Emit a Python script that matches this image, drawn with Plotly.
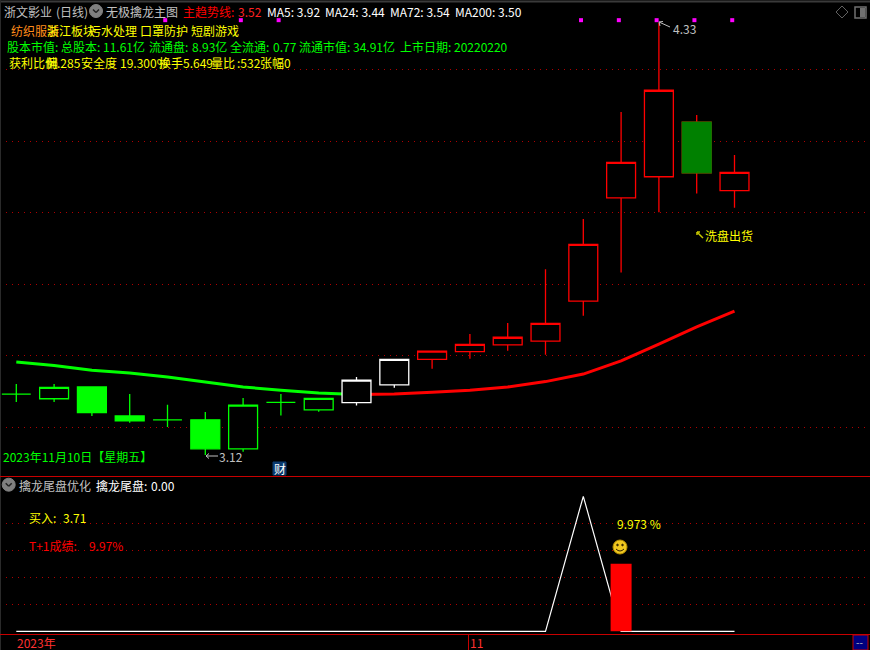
import plotly.graph_objects as go

# ---------- data ----------
candle_index = list(range(20))
body_low  = [3.292,3.279,3.240,3.217,3.220,3.139,3.139,3.269,3.248,3.268,3.318,3.389,3.411,3.430,3.440,3.552,3.841,3.900,3.911,3.861]
body_high = [3.292,3.311,3.312,3.231,3.220,3.220,3.261,3.269,3.280,3.331,3.389,3.412,3.431,3.451,3.490,3.711,3.940,4.142,4.053,3.912]
wick_high = [3.320,3.320,3.312,3.292,3.262,3.242,3.281,3.292,3.281,3.340,3.389,3.412,3.460,3.491,3.641,3.782,4.081,4.330,4.073,3.961]
wick_low  = [3.270,3.270,3.231,3.212,3.200,3.122,3.131,3.232,3.243,3.260,3.310,3.363,3.391,3.413,3.402,3.511,3.632,3.801,3.853,3.813]
candle_kind = ["green_hollow","green_hollow","green_solid","green_solid","green_hollow","green_solid","green_hollow",
               "green_hollow","green_hollow","white_hollow","white_hollow","red_hollow","red_hollow","red_hollow",
               "red_hollow","red_hollow","red_hollow","red_hollow","dark_solid","red_hollow"]
trend_line = [3.382,3.372,3.359,3.351,3.340,3.327,3.312,3.303,3.295,3.291,3.292,3.297,3.303,3.312,3.327,3.348,3.385,3.432,3.480,3.524]
trend_green_upto = 9
signal_index = [4,6,7,15,16,17,18,19]
signal_level = [4.338]*8
price_grid = [3.2,3.4,3.6,3.8,4.0,4.2]
osc_line = [0,0,0,0,0,0,0,0,0,0,0,0,0,0,0,100,0,0,0,0]
osc_bar_index = [16]
osc_bar_value = [50]
osc_grid = [20,40,60,80]

# ---------- canvas helpers (pixels -> paper) ----------
W, H = 870, 650
PX = lambda x: x / W
PY = lambda y: 1 - y / H
XRANGE = [(0 - 16.3) / 37.8, (870 - 16.3) / 37.8]
GRIDCOL = "#b00000"
FRAME = "#c80000"
FONT = "Noto Sans CJK SC"
GREY = "#c0c0c0"
YEL = "#ffff00"
GRN = "#00ff00"

fig = go.Figure()

# main trend line, below candles
fig.add_trace(go.Scatter(x=candle_index[:trend_green_upto+1], y=trend_line[:trend_green_upto+1], mode="lines",
                         line=dict(color=GRN, width=3), xaxis="x", yaxis="y", hoverinfo="skip"))
fig.add_trace(go.Scatter(x=candle_index[trend_green_upto:], y=trend_line[trend_green_upto:], mode="lines",
                         line=dict(color="#ff0000", width=3), xaxis="x", yaxis="y", hoverinfo="skip"))

def candle(idx, lo, hi, wh, wl, line, fill):
    style = dict(line=dict(color=line, width=1.3), fillcolor=fill)
    fig.add_trace(go.Candlestick(x=idx, open=lo, close=hi, high=wh, low=wl, increasing=style, decreasing=style,
                                 whiskerwidth=0, xaxis="x4", yaxis="y4", hoverinfo="skip"))

styles = {"green_hollow": (GRN, "#000000"), "green_solid": (GRN, GRN),
          "white_hollow": ("#ffffff", "#000000"), "red_hollow": ("#ff0000", "#000000"),
          "dark_solid": ("#ff0000", "#000000")}
for kind, (lc, fc) in styles.items():
    ids = [i for i in candle_index if candle_kind[i] == kind]
    candle(ids, [body_low[i] for i in ids], [body_high[i] for i in ids],
           [wick_high[i] for i in ids], [wick_low[i] for i in ids], lc, fc)
# solid dark-green body with red wicks
ids = [i for i in candle_index if candle_kind[i] == "dark_solid"]
candle(ids, [body_low[i] for i in ids], [body_high[i] for i in ids],
       [body_high[i] for i in ids], [body_low[i] for i in ids], "#008000", "#008000")

fig.add_trace(go.Scatter(x=[i - 0.06 for i in signal_index], y=signal_level, mode="markers",
                         marker=dict(symbol="square", size=4, color="#ff00ff", line=dict(width=0)),
                         xaxis="x4", yaxis="y4", hoverinfo="skip"))

# oscillator panel
fig.add_trace(go.Scatter(x=candle_index, y=osc_line, mode="lines", line=dict(color="#ffffff", width=1.2),
                         xaxis="x2", yaxis="y2", hoverinfo="skip"))
fig.add_trace(go.Bar(x=osc_bar_index, y=osc_bar_value, width=0.555, marker=dict(color="#ff0000", line=dict(width=0)),
                     xaxis="x3", yaxis="y3", hoverinfo="skip"))

# ---------- text ----------
ann = []
def note(x, y, text, color=GREY, size=12):
    ann.append(dict(xref="paper", yref="paper", x=PX(x), y=PY(y), text=text, showarrow=False, xanchor="left",
                    yanchor="middle", font=dict(family=FONT, size=size, color=color), borderpad=0, borderwidth=0))

note(4, 11, "浙文影业", GREY)
note(56, 11, "(日线)", GREY)
note(106, 11, "无极擒龙主图")
note(183, 11, "主趋势线:", "#ff0000")
note(238, 11, "3.52", "#ff2020")
note(267, 11, "MA5: 3.92", "#ffffff", 12)
note(325, 11, "MA24: 3.44", "#ffffff", 12)
note(390, 11, "MA72: 3.54", "#ffffff", 12)
note(455, 11, "MA200: 3.50", "#ffffff", 12)

note(11, 30, "纺织服装", "#ff8c1a")
note(47, 30, "浙江板块", YEL)
note(89, 30, "污水处理", YEL)
note(140, 30, "口罩防护", YEL)
note(191, 30, "短剧游戏", YEL)

for x, t in [(7, "股本市值:"), (61, "总股本:"), (103, "11.61亿"), (149, "流通盘:"), (192, "8.93亿"),
             (230, "全流通:"), (273, "0.77"), (299, "流通市值:"), (353, "34.91亿"), (400, "上市日期:"), (454, "20220220")]:
    note(x, 47, t, GRN)

for x, t in [(9, "获利比例"), (46, "偏"), (57, ".285"), (81, "安全度"), (120, "19.300%"), (159, "换手"),
             (183, "5.649"), (211, "量比"), (237, ":532"), (260, "张幅"), (284, "0")]:
    note(x, 63, t, YEL)

note(3, 456, "2023年11月10日【星期五】", GRN)
note(219, 456, "3.12", GREY)
note(673, 28, "4.33", GREY)
note(705, 235, "洗盘出货", YEL)

note(19, 485, "擒龙尾盘优化", GREY)
note(96, 485, "擒龙尾盘:", "#ffffff")
note(151, 485, "0.00", "#ffffff", 12)
note(29, 517, "买入:", YEL, 12)
note(63, 517, "3.71", YEL, 12)
note(29, 545, "T+1成绩:", "#ff0000", 12)
note(89, 545, "9.97%", "#ff0000", 12)
note(617, 523, "9.973 %", YEL, 12)
note(17, 642, "2023年", "#ff3030")
note(470, 642, "11", "#ff3030")
note(856, 641, "--", GREY, 10)
note(274, 468, "财", "#ffffff", 12)

# ---------- furniture shapes ----------
shp = []
def line(x0, y0, x1, y1, color, w=1):
    shp.append(dict(type="line", xref="paper", yref="paper", x0=PX(x0), y0=PY(y0), x1=PX(x1), y1=PY(y1),
                    line=dict(color=color, width=w)))
def rect(x0, y0, x1, y1, fill, lc=None):
    shp.append(dict(type="rect", xref="paper", yref="paper", x0=PX(x0), y0=PY(y0), x1=PX(x1), y1=PY(y1),
                    fillcolor=fill, line=dict(color=lc or fill, width=1), layer="below"))
def circ(cx, cy, r, fill, lc=None):
    shp.append(dict(type="circle", xref="paper", yref="paper", x0=PX(cx - r), y0=PY(cy + r), x1=PX(cx + r), y1=PY(cy - r),
                    fillcolor=fill, line=dict(color=lc or fill, width=1)))

line(0, 1.5, 870, 1.5, "#3a3a3a", 2)
line(0.5, 0, 0.5, 650, "#2a2a2a", 1)
line(0, 476.5, 870, 476.5, FRAME)
line(0, 634.5, 870, 634.5, FRAME)
line(468.5, 634, 468.5, 650, FRAME)
rect(853, 635, 868, 650, "#000080", FRAME)
rect(273, 462, 286, 475, "#0a3a6e")
# chevron icons
for cx, cy in [(96, 11), (8.7, 484.7)]:
    circ(cx, cy, 6.5, "#808080")
    line(cx - 3, cy - 1.5, cx, cy + 1.5, "#222222", 1.5)
    line(cx, cy + 1.5, cx + 3, cy - 1.5, "#222222", 1.5)
# top-right controls
for a, b in [((842, 6), (848, 12)), ((848, 12), (842, 18)), ((842, 18), (836, 12)), ((836, 12), (842, 6))]:
    line(a[0], a[1], b[0], b[1], "#606060")
shp.append(dict(type="rect", xref="paper", yref="paper", x0=PX(855), y0=PY(18), x1=PX(866), y1=PY(7),
                line=dict(color="#707070", width=1.5), fillcolor="#000000"))
shp.append(dict(type="rect", xref="paper", yref="paper", x0=PX(860), y0=PY(17), x1=PX(865), y1=PY(8),
                line=dict(width=0), fillcolor="#707070"))
# arrows
line(206, 456, 218, 456, GREY)
line(206, 456, 209, 453.5, GREY)
line(206, 456, 209, 458.5, GREY)
line(659, 22, 670, 27, GREY)
line(659, 22, 663, 21.5, GREY)
line(659, 22, 660, 26, GREY)
line(697, 232, 703, 238, "#c8c800", 1.5)
line(697, 232, 700, 232, "#c8c800", 1.5)
line(697, 232, 697, 235, "#c8c800", 1.5)
# smiley
circ(620, 547, 7, "#f0c820", "#b89000")
circ(617.5, 545, 0.8, "#302000")
circ(622.5, 545, 0.8, "#302000")
shp.append(dict(type="path", xref="paper", yref="paper",
                path=f"M {PX(616)} {PY(549)} Q {PX(620)} {PY(553)} {PX(624)} {PY(549)}",
                line=dict(color="#302000", width=1)))

# ---------- layout ----------
grid = dict(showgrid=True, griddash="1px,5px", gridcolor=GRIDCOL, gridwidth=1, zeroline=False,
            showticklabels=False, ticks="", showline=False)
plain = dict(showgrid=False, zeroline=False, showticklabels=False, ticks="", showline=False)
xbase = dict(range=XRANGE, rangeslider=dict(visible=False), fixedrange=True, **plain)
osc_range = [(631.3 - 634) / 1.35, (631.3 - 476) / 1.35]
price_range = [3.2 - 49 / 357.5, 3.2 + 427 / 357.5]
fig.update_layout(
    width=W, height=H, margin=dict(l=0, r=0, t=0, b=0), autosize=False,
    paper_bgcolor="#000000", plot_bgcolor="#000000", showlegend=False, boxgap=0.235, boxgroupgap=0, barmode="overlay",
    xaxis=dict(**xbase, domain=[0, 1], anchor="y"),
    xaxis2=dict(**xbase, domain=[0, 1], anchor="y2"),
    xaxis3=dict(**xbase, domain=[0, 1], anchor="y3", overlaying="x2"),
    xaxis4=dict(**xbase, domain=[0, 1], anchor="y4", overlaying="x"),
    yaxis=dict(**grid, domain=[PY(476), PY(0)], range=price_range, tickvals=price_grid, anchor="x"),
    yaxis2=dict(**grid, domain=[PY(634), PY(476)], range=osc_range, tickvals=osc_grid, anchor="x2"),
    yaxis3=dict(**plain, domain=[PY(634), PY(476)], range=osc_range, overlaying="y2", anchor="x3"),
    yaxis4=dict(**plain, domain=[PY(476), PY(0)], range=price_range, overlaying="y", anchor="x4"),
    annotations=ann, shapes=shp,
)
fig.write_html("out.html", config=dict(displayModeBar=False),
               post_script="document.body.style.margin='0';document.body.style.overflow='hidden';")
